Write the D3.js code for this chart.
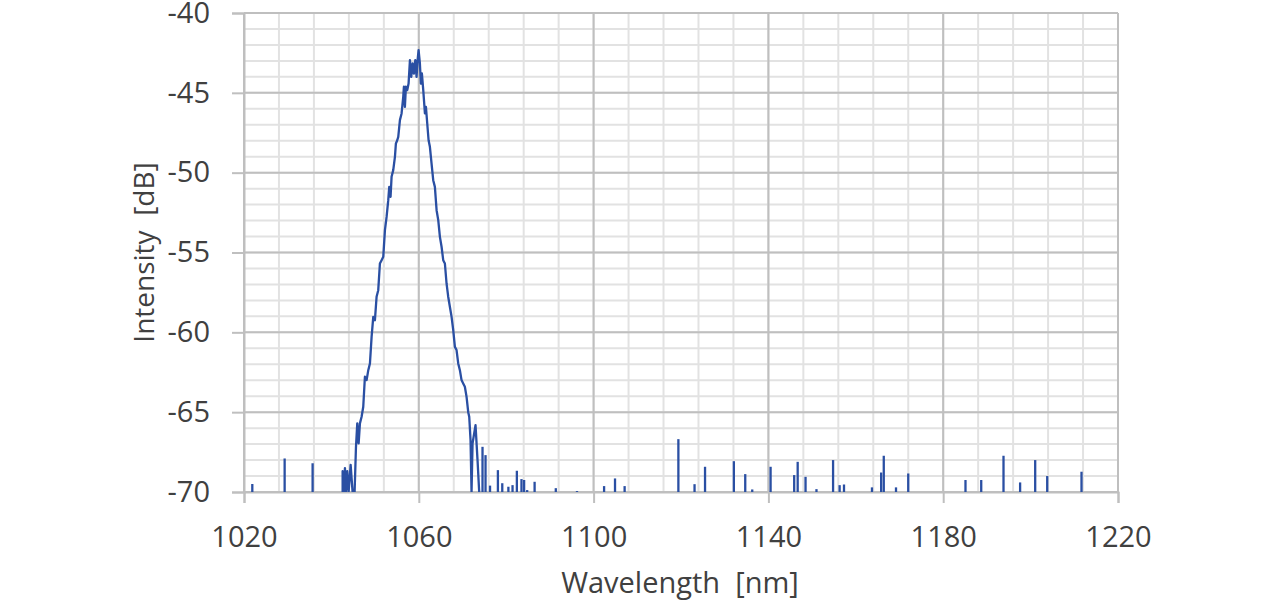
<!DOCTYPE html>
<html><head><meta charset="utf-8">
<script src="https://cdn.jsdelivr.net/npm/d3@7/dist/d3.min.js"></script>
<style>
body{margin:0;background:#fff}
svg{display:block}
text{font-family:"Open Sans",sans-serif;fill:#404040}
</style>
</head><body>
<svg id="chart" width="1284" height="604"></svg>
<script>
// Main emission peak (wavelength nm, intensity dB)
const peakWl = [1042.57,1042.57,1042.87,1043.1,1043.33,1043.63,1043.94,1044.4,1044.85,1045.31,1045.62,1045.92,1046.23,1046.53,1046.91,1047.29,1047.67,1048.06,1048.44,1048.82,1049.2,1049.58,1049.96,1050.34,1050.72,1051.1,1051.49,1051.87,1052.25,1052.63,1053.01,1053.24,1053.54,1053.77,1054.15,1054.54,1054.76,1055.07,1055.3,1055.68,1056.06,1056.44,1056.59,1056.82,1057.05,1057.36,1057.66,1057.97,1058.27,1058.58,1058.88,1059.19,1059.49,1059.72,1059.95,1060.25,1060.48,1060.71,1061.02,1061.4,1061.63,1061.93,1062.24,1062.54,1062.92,1063.3,1063.68,1064.07,1064.45,1064.83,1065.21,1065.59,1065.97,1066.35,1066.73,1067.11,1067.5,1067.88,1068.26,1068.64,1069.02,1069.4,1069.78,1070.16,1070.54,1070.93,1071.31,1071.54,1071.84,1072.07,1072.3,1072.98,1073.44,1073.82];
const peakDb = [-70,-68.7,-70,-68.5,-70,-68.7,-70,-68.3,-70,-70,-67.2,-65.7,-66.96,-65.7,-65.29,-64.66,-62.78,-62.99,-62.37,-61.95,-60.28,-59.03,-59.24,-57.77,-57.36,-55.69,-55.48,-55.27,-53.6,-52.77,-51.72,-50.89,-51.51,-50.26,-49.84,-49.01,-48.17,-47.97,-47.76,-46.71,-46.29,-45.25,-44.62,-45.88,-44.62,-44.83,-44.42,-42.96,-44.0,-43.16,-43.79,-42.96,-44.0,-42.96,-42.33,-43.16,-44.42,-43.79,-44.83,-46.29,-45.88,-46.92,-47.97,-48.38,-49.43,-50.47,-50.89,-52.35,-52.97,-54.02,-54.64,-55.48,-55.69,-56.94,-57.77,-58.4,-59.03,-59.86,-60.91,-61.11,-61.95,-62.37,-62.99,-63.2,-63.41,-64.04,-65.0,-65.29,-66.75,-70,-66.96,-65.81,-68.0,-70];

// Isolated noise spikes above the -70 dB floor
const spikeWl = [1021.9,1029.3,1035.7,1074.58,1075.27,1076.3,1078.1,1079.1,1080.5,1081.45,1082.44,1083.5,1084.1,1084.8,1086.5,1091.35,1096.2,1102.4,1104.9,1107.1,1119.4,1123.1,1125.5,1132.1,1134.7,1136.3,1140.5,1145.9,1146.7,1148.5,1151.0,1154.8,1156.3,1157.3,1163.7,1165.8,1166.4,1169.2,1172.0,1185.1,1188.7,1193.8,1197.6,1201.05,1203.8,1211.65];
const spikeDb = [-69.5,-67.9,-68.2,-67.17,-67.69,-69.6,-68.63,-69.45,-69.67,-69.57,-68.67,-69.19,-69.25,-69.88,-69.36,-69.76,-69.94,-69.63,-69.15,-69.63,-66.69,-69.51,-68.42,-68.07,-68.88,-69.84,-68.42,-68.94,-68.11,-69.05,-69.82,-68.0,-69.57,-69.53,-69.71,-68.78,-67.73,-69.71,-68.84,-69.25,-69.25,-67.73,-69.4,-68.0,-69.0,-68.73];

const xTicks = [1020,1060,1100,1140,1180,1220];
const yTicks = [-40,-45,-50,-55,-60,-65,-70];
const xMinor = d3.range(1020, 1220.1, 8);
const yMinor = d3.range(-70, -39.9, 1);
const xTitle = "Wavelength\u00a0 [nm]";
const yTitle = "Intensity\u00a0 [dB]";

const svg = d3.select("#chart");
const L = 244, R = 1118, T = 13, B = 492;
const FS = 29;
const x = d3.scaleLinear().domain([1020,1220]).range([L,R]);
const y = d3.scaleLinear().domain([-70,-40]).range([B,T]);

const grid = svg.append("g");
grid.selectAll(".vm").data(xMinor).enter().append("line")
  .attr("x1",d=>x(d)).attr("x2",d=>x(d)).attr("y1",T).attr("y2",B)
  .attr("stroke","#e2e2e2").attr("stroke-width",2);
grid.selectAll(".hm").data(yMinor).enter().append("line")
  .attr("x1",L).attr("x2",R).attr("y1",d=>y(d)).attr("y2",d=>y(d))
  .attr("stroke","#e2e2e2").attr("stroke-width",2);
grid.selectAll(".vM").data(xTicks).enter().append("line")
  .attr("x1",d=>x(d)).attr("x2",d=>x(d)).attr("y1",T).attr("y2",B)
  .attr("stroke","#bfbfbf").attr("stroke-width",2);
grid.selectAll(".hM").data(yTicks).enter().append("line")
  .attr("x1",L).attr("x2",R).attr("y1",d=>y(d)).attr("y2",d=>y(d))
  .attr("stroke","#bfbfbf").attr("stroke-width",2);

// axes
const xAxis = svg.append("g").attr("transform",`translate(0,${B})`)
  .call(d3.axisBottom(x).tickValues(xTicks).tickSize(11).tickPadding(23).tickFormat(d3.format("d")));
const yAxis = svg.append("g").attr("transform",`translate(${L},0)`)
  .call(d3.axisLeft(y).tickValues(yTicks).tickSize(12).tickPadding(22).tickFormat(d=>d));
[xAxis,yAxis].forEach(a=>{
  a.select(".domain").attr("stroke","#bfbfbf").attr("stroke-width",2);
  a.selectAll(".tick line").attr("stroke","#bfbfbf").attr("stroke-width",2);
  a.selectAll("text").attr("font-size",FS).attr("fill","#404040").attr("font-family","'Open Sans',sans-serif");
});

svg.append("defs").append("clipPath").attr("id","clip")
  .append("rect").attr("x",L).attr("y",T-5).attr("width",R-L).attr("height",B-T+5);

const data = peakWl.map((w,i)=>[w,peakDb[i]]);
const line = d3.line().x(d=>x(d[0])).y(d=>y(d[1]));
const series = svg.append("g").attr("clip-path","url(#clip)");
series.append("path").datum(data).attr("d",line)
  .attr("fill","none").attr("stroke","#2a4fa3").attr("stroke-width",2.3).attr("stroke-linejoin","round");
series.selectAll(".sp").data(spikeWl).enter().append("line")
  .attr("x1",d=>x(d)).attr("x2",d=>x(d))
  .attr("y1",y(-70)).attr("y2",(d,i)=>y(spikeDb[i]))
  .attr("stroke","#2a4fa3").attr("stroke-width",2.3);

svg.append("text").attr("x",(L+R)/2 - 1).attr("y",593).attr("text-anchor","middle")
  .attr("font-size",FS).text(xTitle);
svg.append("text").attr("transform",`translate(154,${(T+B)/2}) rotate(-90)`)
  .attr("text-anchor","middle").attr("font-size",FS - 1).text(yTitle);
</script>
</body></html>
